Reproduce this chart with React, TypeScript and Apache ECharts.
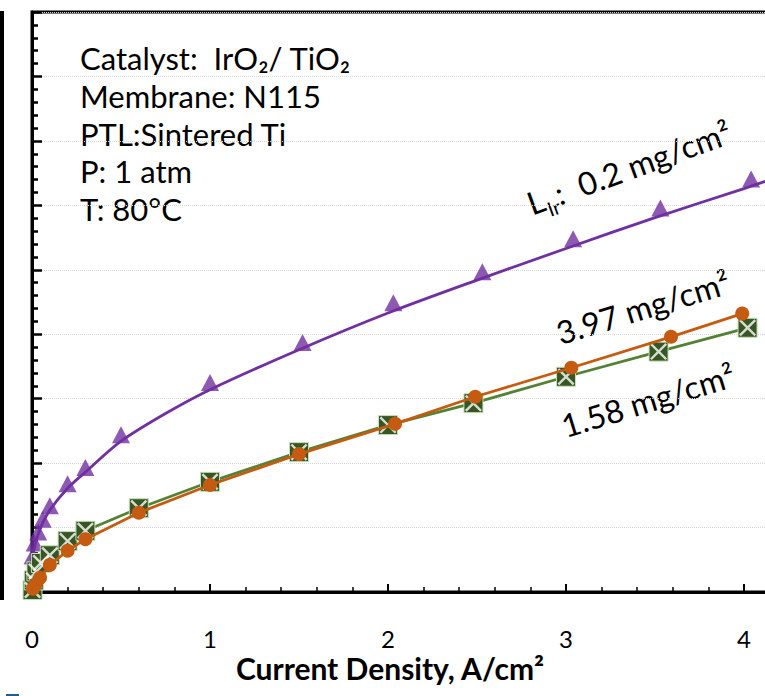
import React, { useEffect, useRef } from "react";
import * as echarts from "echarts";

// Current density (A/cm²) and cell voltage (V) for the three Ir loadings
const currentLow = [0.003, 0.015, 0.035, 0.06, 0.1, 0.2, 0.3, 0.5, 1.0, 1.52, 2.03, 2.53, 3.04, 3.53, 4.04];
const voltageLow = [1.456, 1.476, 1.493, 1.513, 1.534, 1.568, 1.593, 1.644, 1.725, 1.787, 1.849, 1.897, 1.948, 1.996, 2.041];

// Trend curve drawn through the 0.2 mg/cm² data
const fitCurrent = [0.003, 0.02, 0.05, 0.1, 0.2, 0.3, 0.5, 0.75, 1.0, 1.5, 2.0, 2.5, 3.0, 3.5, 4.0, 4.15];
const fitVoltage = [1.453, 1.476, 1.501, 1.527, 1.561, 1.586, 1.634, 1.677, 1.714, 1.776, 1.833, 1.884, 1.933, 1.981, 2.026, 2.04];

const currentMid = [0.003, 0.01, 0.025, 0.05, 0.1, 0.2, 0.3, 0.6, 1.0, 1.5, 2.0, 2.48, 3.0, 3.52, 4.02];
const voltageMid = [1.403, 1.418, 1.432, 1.445, 1.457, 1.479, 1.495, 1.53, 1.571, 1.617, 1.659, 1.693, 1.734, 1.773, 1.81];

const currentHigh = [0.005, 0.02, 0.045, 0.1, 0.2, 0.3, 0.6, 1.0, 1.5, 2.04, 2.49, 3.03, 3.59, 3.99];
const voltageHigh = [1.405, 1.412, 1.422, 1.442, 1.464, 1.482, 1.523, 1.566, 1.614, 1.661, 1.703, 1.748, 1.796, 1.832];

const xTicks = [0, 1, 2, 3, 4, 5];
const lastLabelledTick = 4;
const conditions = [
  "Catalyst:  IrO₂/ TiO₂",
  "Membrane: N115",
  "PTL:Sintered Ti",
  "P: 1 atm",
  "T: 80°C",
];

const FONT = "Lato, 'Open Sans', sans-serif";
const PURPLE = "#7030A0";
const ORANGE = "#C55A11";
const GREEN_LINE = "#548235";
const GREEN_MARK = "#375623";

const pairs = (xs: number[], ys: number[]) => xs.map((x, i) => [x, ys[i]]);

// White cross laid over the square markers
const X_PATH =
  "path://M0,2 L2,0 L10,8 L18,0 L20,2 L12,10 L20,18 L18,20 L10,12 L2,20 L0,18 L8,10 Z";

export default function App() {
  const ref = useRef<HTMLDivElement>(null);

  useEffect(() => {
    document.body.style.margin = "0";
    if (!ref.current) return;
    const chart = echarts.init(ref.current, undefined, { renderer: "svg" });

    const rich = {
      a: { fontSize: 32, fontFamily: FONT, color: "#000", verticalAlign: "bottom", padding: [0, 0, 6, 0] },
      s: { fontSize: 20, fontFamily: FONT, color: "#000", verticalAlign: "bottom" },
    };

    chart.setOption({
      animation: false,
      backgroundColor: "#fff",
      grid: {
        left: 32,
        top: 12,
        width: 890,
        height: 580,
        outerBoundsMode: "none",
        containLabel: false,
        show: true,
        borderColor: "#000",
        borderWidth: 3,
        backgroundColor: "transparent",
      },
      xAxis: {
        type: "value",
        min: xTicks[0],
        max: xTicks[xTicks.length - 1],
        interval: 1,
        axisLine: { lineStyle: { color: "#000", width: 3 } },
        axisTick: { inside: true, length: 8, lineStyle: { color: "#000", width: 2 } },
        minorTick: { show: true, splitNumber: 5, length: 5, lineStyle: { color: "#000", width: 1.5 } },
        splitLine: { show: false },
        axisLabel: {
          fontFamily: FONT,
          fontSize: 24,
          color: "#000",
          margin: 34,
          formatter: (v: number) => (v <= lastLabelledTick ? String(v) : ""),
        },
      },
      yAxis: {
        type: "value",
        min: 1.4,
        max: 2.3,
        interval: 0.1,
        axisLine: { lineStyle: { color: "#000", width: 3 } },
        axisTick: { inside: true, length: 10, lineStyle: { color: "#000", width: 2.5 } },
        minorTick: { show: true, splitNumber: 5, length: 6, lineStyle: { color: "#000", width: 2.5 } },
        splitLine: { show: true, lineStyle: { color: "#d9d9d9", width: 1, type: "dotted" } },
        axisLabel: { show: false },
      },
      series: [
        {
          type: "line",
          data: pairs(fitCurrent, fitVoltage),
          smooth: 0.3,
          showSymbol: false,
          lineStyle: { color: PURPLE, width: 2.8 },
          silent: true,
          z: 2,
        },
        {
          type: "scatter",
          data: pairs(currentLow, voltageLow),
          symbol: "triangle",
          symbolSize: [18, 17],
          itemStyle: { color: PURPLE },
          z: 3,
        },
        {
          type: "line",
          data: pairs(currentMid, voltageMid),
          symbol: "rect",
          symbolSize: 19,
          showAllSymbol: true,
          lineStyle: { color: GREEN_LINE, width: 2.8 },
          itemStyle: { color: GREEN_MARK, borderColor: "#c5e0b4", borderWidth: 1 },
          z: 4,
        },
        {
          type: "scatter",
          data: pairs(currentMid, voltageMid),
          symbol: X_PATH,
          symbolSize: 17,
          itemStyle: { color: "#fff" },
          silent: true,
          z: 5,
        },
        {
          type: "line",
          data: pairs(currentHigh, voltageHigh),
          symbol: "circle",
          symbolSize: 14,
          showAllSymbol: true,
          lineStyle: { color: ORANGE, width: 2.8 },
          itemStyle: { color: ORANGE },
          z: 6,
        },
      ],
      graphic: [
        { type: "rect", shape: { x: 0, y: 11, width: 4, height: 589 }, style: { fill: "#000" } },
        { type: "rect", shape: { x: 6, y: 694, width: 13, height: 2 }, style: { fill: "#1f5f8b" } },
        ...conditions.map((t, i) => ({
          type: "text",
          x: 80,
          y: 58 + i * 37.8,
          style: { text: t, font: `31px ${FONT}`, fill: "#000", align: "left", verticalAlign: "middle" },
        })),
        {
          type: "text",
          x: 390,
          y: 668,
          style: {
            text: "Current Density, A/cm²",
            font: `bold 30px ${FONT}`,
            fill: "#000",
            align: "center",
            verticalAlign: "middle",
          },
        },
        {
          type: "text",
          x: 630,
          y: 170,
          rotation: (20 * Math.PI) / 180,
          style: {
            text: "{a|L}{s|Ir}{a|:  0.2 mg/cm²}",
            rich,
            align: "center",
            verticalAlign: "middle",
          },
        },
        {
          type: "text",
          x: 643,
          y: 307,
          rotation: (17 * Math.PI) / 180,
          style: { text: "3.97 mg/cm²", font: `32px ${FONT}`, fill: "#000", align: "center", verticalAlign: "middle" },
        },
        {
          type: "text",
          x: 648,
          y: 400,
          rotation: (17 * Math.PI) / 180,
          style: { text: "1.58 mg/cm²", font: `32px ${FONT}`, fill: "#000", align: "center", verticalAlign: "middle" },
        },
      ],
    });

    return () => chart.dispose();
  }, []);

  return <div ref={ref} style={{ width: 765, height: 696 }} />;
}
